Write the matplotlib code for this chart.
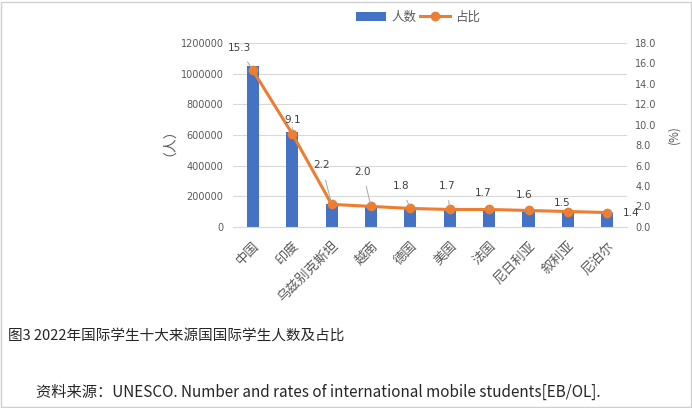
import numpy as np
import matplotlib
matplotlib.use("Agg")
import matplotlib.pyplot as plt
from matplotlib.patches import Rectangle

plt.rcParams['font.family'] = ['Noto Sans CJK SC', 'DejaVu Sans']

# data
countries = ["中国", "印度", "乌兹别克斯坦", "越南", "德国", "美国", "法国", "尼日利亚", "叙利亚", "尼泊尔"]
students = [1052000, 620000, 150000, 130000, 125000, 115000, 115000, 112000, 102000, 95000]
share = [15.3, 9.1, 2.2, 2.0, 1.8, 1.7, 1.7, 1.6, 1.5, 1.4]
left_ticks = [0, 200000, 400000, 600000, 800000, 1000000, 1200000]
right_ticks = [0, 2, 4, 6, 8, 10, 12, 14, 16, 18]

blue = "#4472C4"
orange = "#ED7D31"
gray = "#595959"

fig = plt.figure(figsize=(6.92, 4.08), dpi=100)
ax = fig.add_axes([0.337, 0.444, 0.569, 0.451])
ax2 = ax.twinx()

x = np.arange(len(countries))
ax.bar(x, students, width=0.31, color=blue, zorder=2, label="人数")
ax.set_xlim(-0.5, len(countries) - 0.5)
ax.set_ylim(0, 1200000)
ax.set_yticks(left_ticks)
ax.set_yticklabels([str(t) for t in left_ticks], fontsize=7, color=gray, family="DejaVu Sans")
ax.grid(axis="y", color="#D9D9D9", linewidth=0.8, zorder=0)
ax.set_axisbelow(True)
ax.set_xticks(x)
ax.set_xticklabels(countries, rotation=45, ha="right", rotation_mode="anchor",
                   fontsize=9.5, color=gray)
ax.tick_params(axis="y", length=0, pad=7)
ax.tick_params(axis="x", length=0, pad=9)
for s in ["top", "left", "right"]:
    ax.spines[s].set_visible(False)
ax.spines["bottom"].set_color("#D9D9D9")
ax.set_ylabel("（人）", fontsize=10, color=gray, labelpad=8)

ax2.plot(x, share, color=orange, linewidth=2.2, marker="o", markersize=6, zorder=3, label="占比")
ax2.set_ylim(0, 18)
ax2.set_yticks(right_ticks)
ax2.set_yticklabels([f"{t:.1f}" for t in right_ticks], fontsize=7, color=gray, family="DejaVu Sans")
ax2.tick_params(length=0, pad=6)
for s in ["top", "left", "right", "bottom"]:
    ax2.spines[s].set_visible(False)
ax2.set_ylabel("(%)", fontsize=8.5, color=gray, rotation=90, labelpad=8)

# data labels with leader lines (offsets in points)
offsets = [(-10, 16), (0, 10), (-7, 28), (-6, 25), (-7, 16), (-2, 17), (-4, 12), (-3, 11), (-4, 6), (17, 0)]
for xi, yi, off in zip(x, share, offsets):
    ax2.annotate(f"{yi:.1f}", xy=(xi, yi), xytext=off, textcoords="offset points",
                 ha="center", va="center", fontsize=7.5, color="#404040", family="DejaVu Sans",
                 arrowprops=dict(arrowstyle="-", color="#A6A6A6", lw=0.7, shrinkA=5, shrinkB=2),
                 zorder=4)

h1, l1 = ax.get_legend_handles_labels()
h2, l2 = ax2.get_legend_handles_labels()
fig.legend(h1 + h2, l1 + l2, loc="center", bbox_to_anchor=(0.604, 0.958), ncol=2,
           frameon=False, fontsize=9, handlelength=2.4, columnspacing=0.3,
           handletextpad=0.4, labelcolor=gray)

fig.text(0.012, 0.178, "图3 2022年国际学生十大来源国国际学生人数及占比", fontsize=10.5,
         color="#262626", va="center")
fig.text(0.052, 0.038, "资料来源：UNESCO. Number and rates of international mobile students[EB/OL].",
         fontsize=11, color="#262626", va="center")

fig.patches.append(Rectangle((0.001, 0.002), 0.997, 0.994, transform=fig.transFigure,
                             fill=False, edgecolor="#D0D0D0", linewidth=1))

fig.savefig("out.png", dpi=100)
